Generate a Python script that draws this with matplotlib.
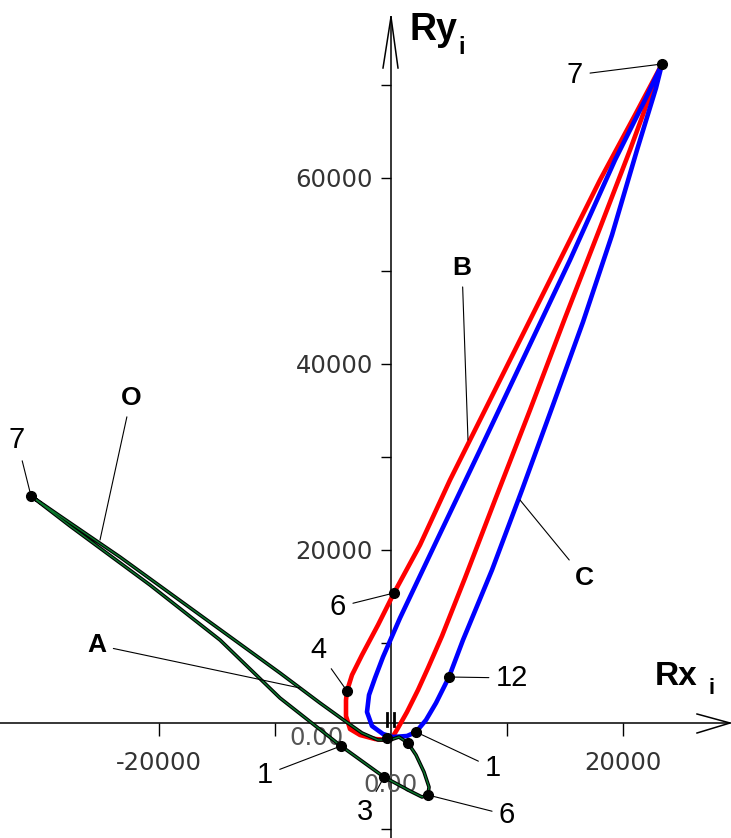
import matplotlib
matplotlib.use('Agg')
import matplotlib.pyplot as plt

W, H = 731, 838

# curve B (red)
red_x = [-259, -1379, -2672, -3534, -3879, -3879, -3793, -3362, -2500, -1121, 259,
         2500, 5086, 8103, 11120, 14568, 18016, 21033, 23360,
         22498, 20602, 18016, 14999, 11982, 8965, 6379, 4396, 3189, 2327, 1379, 603, 86]
red_y = [-430, -323, 108, 753, 2150, 3870, 4838, 6558, 8708, 11933, 15373,
         20533, 27520, 35045, 42570, 51170, 59770, 66758, 72240,
         69445, 62995, 54610, 44935, 35045, 25370, 16985, 10750, 7310, 4945, 2580, 860, -215]

# curve C (blue)
blue_x = [2155, 1379, 172, -690, -1638, -2069, -1896, -1379, -690, 776, 3965, 7672,
          11551, 15430, 19309, 21895, 23360, 22843, 21205, 19050, 16550, 13964,
          11292, 8706, 6206, 4999, 3879, 3017, 2155]
blue_y = [430, 0, -108, 215, 1075, 2580, 4408, 6235, 8493, 12685, 21070, 30745,
          40958, 51170, 61920, 68370, 72240, 69660, 62995, 53858, 44505, 35583,
          26445, 17845, 10320, 6343, 3548, 1720, 430]

# curves A / O (green)
green_x = [-86, -1121, -2500, -3965, -6120, -9568, -16464, -23360, -28532, -31032,
           -27670, -20774, -14740, -9568, -4310, -603, 1638, 2672, 3189, 3276,
           2845, 2155, 1465, 690, -86]
green_y = [-430, -430, 323, 1613, 3548, 6773, 13008, 19243, 23650, 25800,
           22575, 16233, 10320, 4085, -1075, -4408, -5913, -6558, -6343, -5483,
           -3870, -2043, -753, -108, -430]

# numbered points
point_labels = ['7', '6', '4', '12', '1', '', '', '1', '3', '6', '7']
point_x = [23360, 259, -3793, 4999, 2155, -345, 1465, -4310, -603, 3189, -31032]
point_y = [72240, 15373, 4838, 6343, 430, -215, -753, -1075, -4408, -6343, 25800]
point_offsets = [(-87, -11), (-56, -14), (-29, 41), (63, -1), (77, -36), None, None,
                 (-76, -29), (-19, -35), (79, -20), (-14, 56)]

# curve names and where their leaders touch the curve
curve_names = ['B', 'C', 'O', 'A']
curve_ptr_x = [6637, 11120, -25084, -7844]
curve_ptr_y = [31820, 25370, 21070, 5160]
curve_offsets = [(-6, 172), (64, -78), (31, 142), (-203, 43)]

x_ticks = [-20000, -10000, 10000, 20000]
x_ticklabels = ['-20000', '', '', '20000']
y_ticks = [-10000, 10000, 20000, 30000, 40000, 50000, 60000, 70000]
y_ticklabels = ['', '', '20000', '', '40000', '', '60000', '']

fig = plt.figure(figsize=(W / 100, H / 100), dpi=100)
ax = fig.add_axes([0, 0, 1, 1])
ax.set_xlim(-33704, 29308)
ax.set_ylim(-10965, 79120)

for s in ['top', 'right']:
    ax.spines[s].set_visible(False)
ax.spines['left'].set_position(('data', 0))
ax.spines['bottom'].set_position(('data', 1400))
ax.spines['left'].set_bounds(-10965, 77300)
ax.spines['bottom'].set_bounds(-33704, 29140)
for s in ['left', 'bottom']:
    ax.spines[s].set_linewidth(1.1)

ax.set_xticks(x_ticks, x_ticklabels)
ax.set_yticks(y_ticks, y_ticklabels)
ax.tick_params(axis='x', direction='out', length=9, width=1, pad=11,
               labelsize=17.5, labelcolor='#333333')
ax.tick_params(axis='y', direction='out', length=7, width=1, pad=6,
               labelsize=17.5, labelcolor='#333333')

# arrow heads on the axes
def fpx(px, py):
    return px / W, 1 - py / H

for tip, a, b in [((391, 17), (383, 68), (398, 68)),
                  ((730, 723), (697, 714), (697, 733))]:
    for end in (a, b):
        p0, p1 = fpx(*end), fpx(*tip)
        fig.add_artist(plt.Line2D([p0[0], p1[0]], [p0[1], p1[1]], color='black', lw=1.1))

ax.plot(red_x, red_y, color='#ff0000', lw=3.3, zorder=3)
ax.plot(blue_x, blue_y, color='#0000ff', lw=3.3, zorder=4)
ax.plot(green_x, green_y, color='black', lw=2.6, zorder=5)
ax.plot(green_x, green_y, color='#0b7a2e', lw=1.0, zorder=6)

# short bars at the origin
ax.plot([-345, -345], [1100, 2450], color='black', lw=2, zorder=6)
ax.plot([259, 259], [1100, 2450], color='black', lw=2, zorder=6)

ax.plot(point_x, point_y, 'o', color='black', ms=7, zorder=8)

for lab, x, y, off in zip(point_labels, point_x, point_y, point_offsets):
    if not lab:
        continue
    ax.annotate(lab, xy=(x, y), xytext=off, textcoords='offset pixels',
                ha='center', va='center', fontsize=21, family='Liberation Sans',
                arrowprops=dict(arrowstyle='-', lw=0.8, color='black',
                                shrinkA=3, shrinkB=0), zorder=9)

for lab, x, y, off in zip(curve_names, curve_ptr_x, curve_ptr_y, curve_offsets):
    ax.annotate(lab, xy=(x, y), xytext=off, textcoords='offset pixels',
                ha='center', va='center', fontsize=19, fontweight='bold',
                family='Liberation Sans',
                arrowprops=dict(arrowstyle='-', lw=0.8, color='black',
                                shrinkA=3, shrinkB=0), zorder=9)

# axis-limit readouts near the origin
ax.annotate('0.00', xy=(0, 1400), xytext=(-74, -15), textcoords='offset pixels',
            ha='center', va='center', fontsize=17.5, color='#555555')
ax.annotate('0.00', xy=(0, 1400), xytext=(0, -62), textcoords='offset pixels',
            ha='center', va='center', fontsize=17.5, color='#555555')

# axis names
fig.text(*fpx(410, 30), 'Ry', fontsize=27, fontweight='bold', family='Liberation Sans',
         ha='left', va='center')
fig.text(*fpx(458, 47), 'i', fontsize=17, fontweight='bold', family='Liberation Sans',
         ha='left', va='center')
fig.text(*fpx(655, 676), 'Rx', fontsize=24, fontweight='bold', family='Liberation Sans',
         ha='left', va='center')
fig.text(*fpx(709, 688), 'i', fontsize=16, fontweight='bold', family='Liberation Sans',
         ha='left', va='center')

fig.savefig('out.png', dpi=100)
